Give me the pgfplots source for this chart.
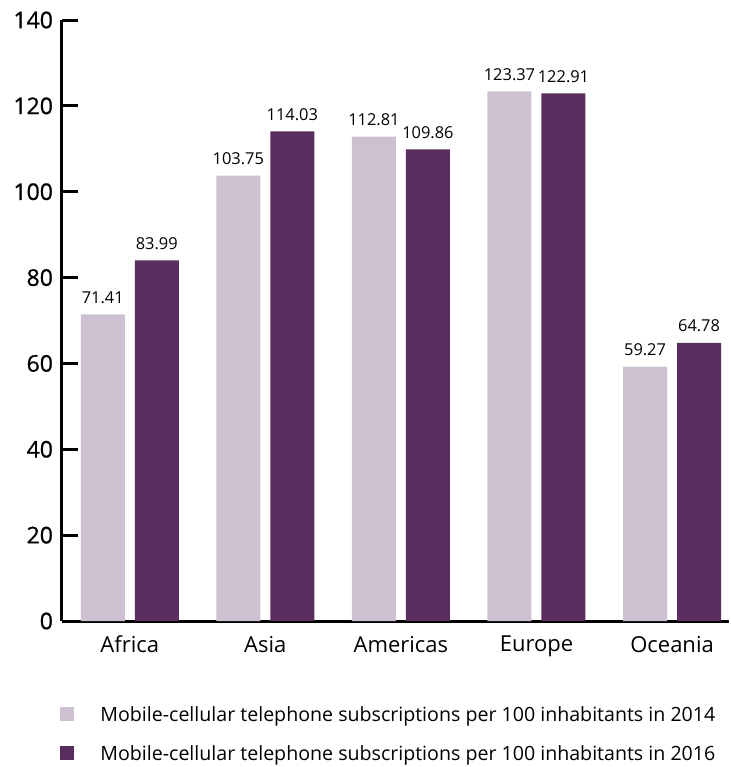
\documentclass[border=0pt]{standalone}
\usepackage{pgfplots}
\pgfplotsset{compat=1.18}
\usepackage{fontspec}
\setmainfont{Open Sans}
\newfontfamily\tickfont{Open Sans}[FakeBold=0.8]
\definecolor{light}{RGB}{205,193,209}
\definecolor{dark}{RGB}{90,45,95}
\begin{document}
\begin{tikzpicture}
\begin{axis}[
  scale only axis,
  width=333.5pt, height=300.5pt,
  xmin=-0.5, xmax=4.42,
  ymin=0, ymax=140,
  ytick={0,20,...,140},
  xtick={0,1,2,3,4},
  xticklabels={Africa,Asia,Americas,Europe,Oceania},
  major x tick style={draw=none},
  extra x ticks={0.5,1.5,2.5,3.5},
  extra x tick labels={},
  extra x tick style={major tick length=7.5pt, tick style={line width=1.5pt, black}},
  ytick style={line width=1.5pt, black},
  major tick length=8pt,
  tick align=inside,
  axis x line*=bottom,
  axis y line*=left,
  axis line style={line width=1.5pt, -},
  /pgf/number format/assume math mode=true,
  yticklabel style={font=\tickfont\fontsize{11.5}{13}\selectfont, xshift=-1pt},
  xticklabel style={font=\fontsize{11}{13}\selectfont, yshift=4pt},
  ybar, bar width=22pt,
  nodes near coords,
  nodes near coords style={font=\fontsize{8.2}{11}\selectfont, /pgf/number format/fixed, /pgf/number format/zerofill, /pgf/number format/precision=2, yshift=2pt},
  legend style={at={([xshift=-4pt,yshift=-40.5pt]current axis.south west)}, anchor=north west, draw=none, font=\fontsize{9.8}{12}\selectfont, row sep=12pt},
  legend cell align=left,
  legend image code/.code={\fill[#1] (0pt,-3.5pt) rectangle (7pt,3.5pt);},
  legend style={nodes={inner sep=0pt, text depth=0pt}},
]
\addplot[fill=light, draw=none, bar shift=-13.5pt] coordinates {(0,71.41) (1,103.75) (2,112.81) (3,123.37) (4,59.27)};
\addplot[fill=dark, draw=none, bar shift=13.5pt] coordinates {(0,83.99) (1,114.03) (2,109.86) (3,122.91) (4,64.78)};
\legend{\hspace{13pt}Mobile-cellular telephone subscriptions per 100 inhabitants in 2014,\hspace{13pt}Mobile-cellular telephone subscriptions per 100 inhabitants in 2016}
\end{axis}
\path (current axis.south west) ++(-31pt,-73pt) rectangle ++(364.5pt,383.5pt);
\end{tikzpicture}
\end{document}
